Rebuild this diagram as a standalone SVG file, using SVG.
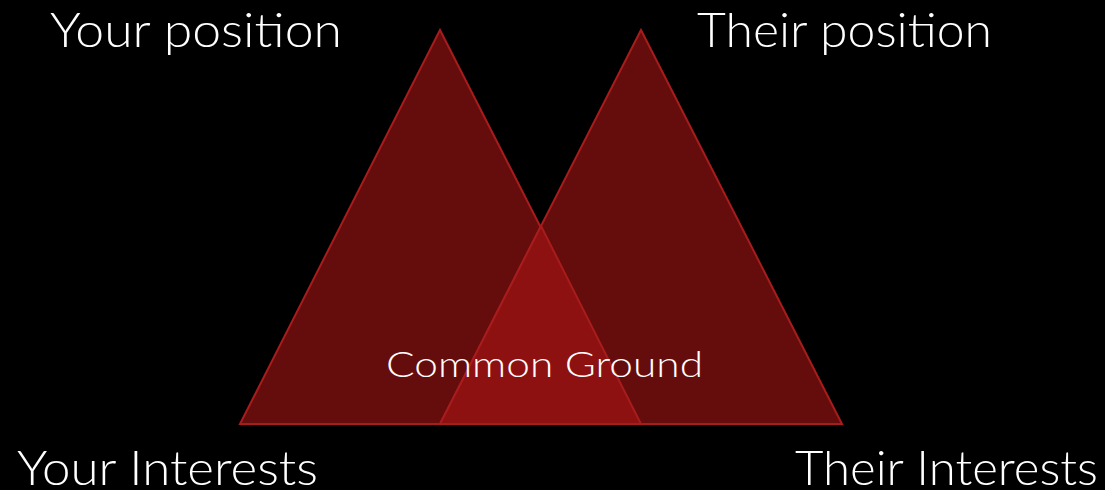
<svg xmlns="http://www.w3.org/2000/svg" width="1105" height="490" viewBox="0 0 1105 490">
<style>
.tri{fill:#650d0d;stroke:#a81c1c;stroke-width:2;stroke-linejoin:miter}
.ov{fill:#8e1111;stroke:#a81c1c;stroke-width:2}
.lbl{fill:#ffffff;font-family:"Century Gothic","Lato","Liberation Sans",sans-serif;font-weight:300}
</style>
<rect width="1105" height="490" fill="#000"/>
<g id="your-triangle"><polygon class="tri" points="440,30 240,424 641,424"/></g>
<g id="their-triangle"><polygon class="tri" points="641,30 440,424 842,424"/></g>
<g id="common-ground"><polygon class="ov" points="541,226 440,424 641,424"/>
<text class="lbl" x="386" y="377" font-size="36" textLength="317" lengthAdjust="spacingAndGlyphs">Common Ground</text></g>
<g id="your-position"><text class="lbl" x="50" y="47" font-size="48" textLength="292" lengthAdjust="spacingAndGlyphs">Your position</text></g>
<g id="their-position"><text class="lbl" x="697" y="47" font-size="48" textLength="295" lengthAdjust="spacingAndGlyphs">Their position</text></g>
<g id="your-interests"><text class="lbl" x="17" y="485" font-size="48" textLength="301" lengthAdjust="spacingAndGlyphs">Your Interests</text></g>
<g id="their-interests"><text class="lbl" x="795" y="485" font-size="48" textLength="303" lengthAdjust="spacingAndGlyphs">Their Interests</text></g>
<g id="connectors"></g>
</svg>
